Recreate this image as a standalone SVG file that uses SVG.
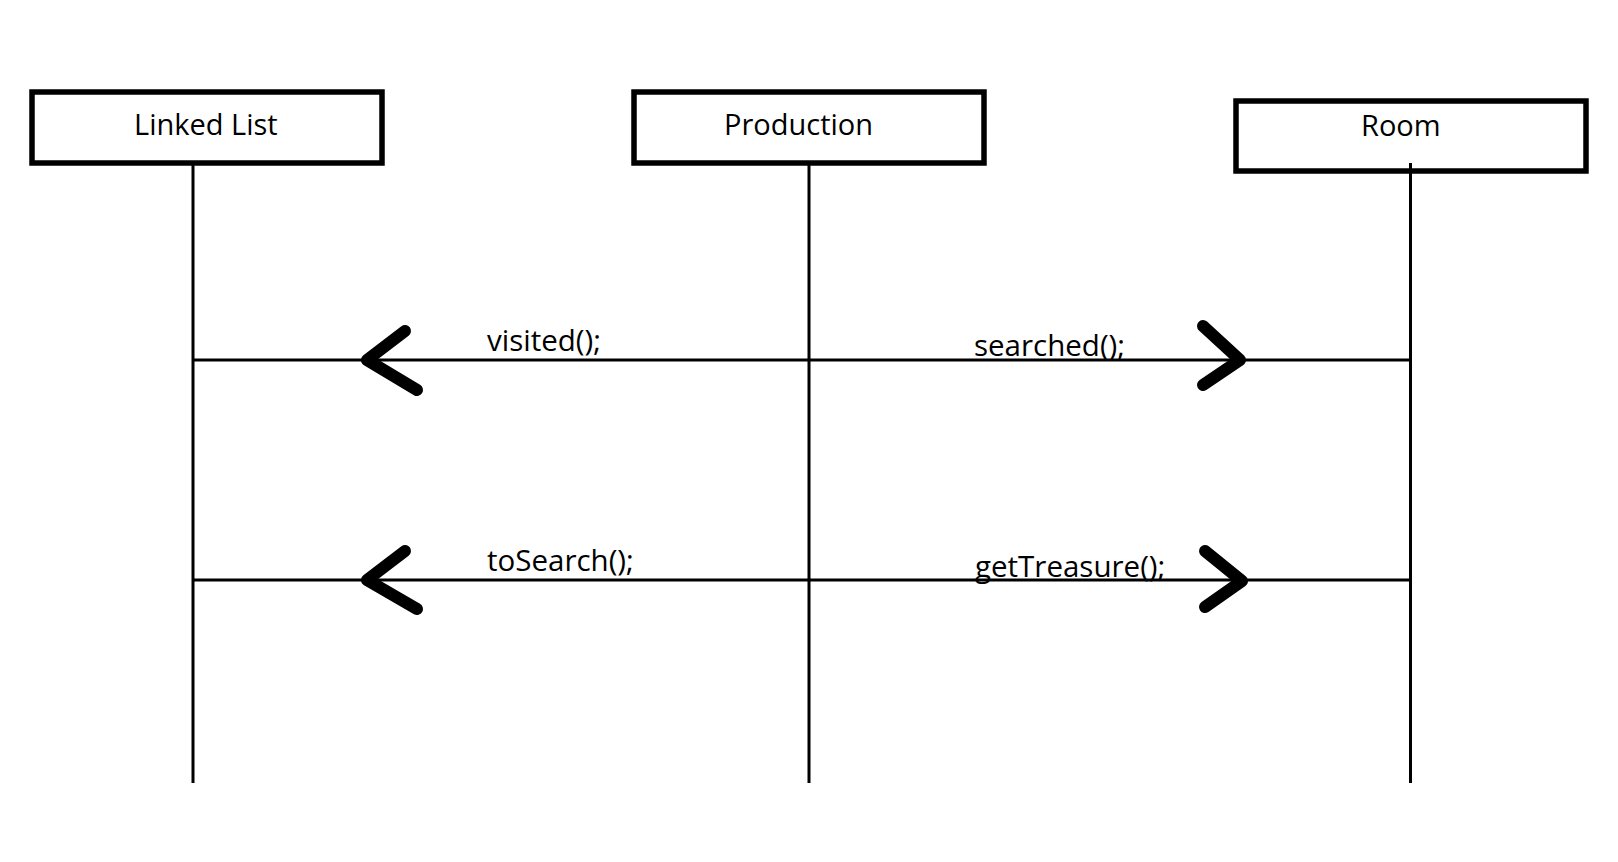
<svg xmlns="http://www.w3.org/2000/svg" width="1618" height="862" viewBox="0 0 1618 862">
<style>
.box{fill:#fff;stroke:#000;stroke-width:5.5}
.life{stroke:#000;stroke-width:3;fill:none}
.msg{stroke:#000;stroke-width:3;fill:none}
.head{stroke:#000;stroke-width:12;fill:none;stroke-linecap:round;stroke-linejoin:round}
text{font-family:"Open Sans","DejaVu Sans",sans-serif;font-size:29px;fill:#000}
text.lbl{font-size:29.5px}
</style>
<rect width="1618" height="862" fill="#fff"/>
<g id="connectors">
<line class="life" x1="193" y1="162" x2="193" y2="783"/>
<line class="life" x1="809" y1="161" x2="809" y2="783"/>
<line class="life" x1="1410.5" y1="163" x2="1410.5" y2="783"/>
<line class="msg" x1="193" y1="360" x2="1410.5" y2="360"/>
<line class="msg" x1="193" y1="580" x2="1410.5" y2="580"/>
<polyline class="head" points="405,331 367,360 417,390"/>
<polyline class="head" points="1203,326 1240,360 1203,385"/>
<polyline class="head" points="405,551 367,580 417,609"/>
<polyline class="head" points="1205,551 1242,581 1205,607"/>
<text class="lbl" x="487" y="351">visited();</text>
<text class="lbl" x="974" y="356">searched();</text>
<text class="lbl" x="487" y="571">toSearch();</text>
<text class="lbl" x="975" y="577">getTreasure();</text>
</g>
<g id="linked-list">
<rect class="box" x="32" y="92" width="350" height="71"/>
<text x="134" y="135">Linked List</text>
</g>
<g id="production">
<rect class="box" x="634" y="92" width="350" height="71"/>
<text x="724" y="135">Production</text>
</g>
<g id="room">
<rect class="box" x="1236" y="101" width="350" height="70"/>
<text x="1361" y="136">Room</text>
</g>
<line class="life" x1="1410.5" y1="163" x2="1410.5" y2="173"/>
</svg>
